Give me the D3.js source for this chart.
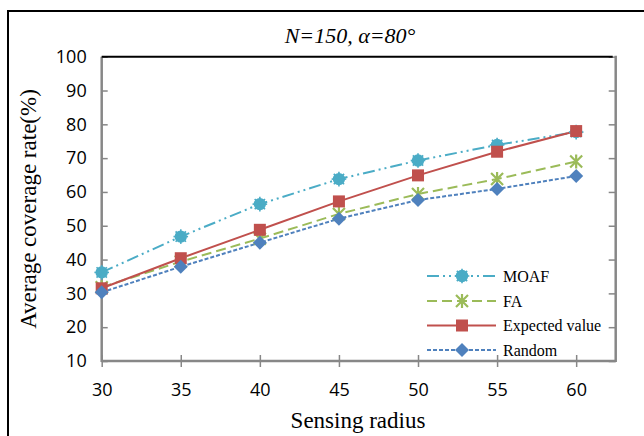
<!DOCTYPE html>
<html><head><meta charset="utf-8">
<script src="https://cdn.jsdelivr.net/npm/d3@7"></script>
<style>body{margin:0;background:#fff}svg{display:block}</style>
</head><body>
<svg id="c" width="644" height="436"></svg>
<script>
const radii = [30, 35, 40, 45, 50, 55, 60];
const moaf = [36.2, 46.8, 56.4, 63.8, 69.3, 73.9, 77.7];
const fa = [31.8, 39.4, 46.2, 53.5, 59.4, 63.8, 69.0];
const expected = [31.5, 40.4, 48.8, 57.2, 64.9, 71.9, 78.0];
const random = [30.3, 37.9, 45.0, 52.1, 57.6, 60.9, 64.7];
const yTicks = [10, 20, 30, 40, 50, 60, 70, 80, 90, 100];
const xTicks = [30, 35, 40, 45, 50, 55, 60];
const seriesNames = ["MOAF", "FA", "Expected value", "Random"];

const svg = d3.select("#c");
const L = 101.7, R = 615.7, T = 56.7, B = 361;
const x = d3.scaleLinear().domain([30, 62.5]).range([L, R]);
const y = d3.scaleLinear().domain([10, 100]).range([B, T]);

// outer frame
svg.append("path").attr("d", "M8,436 V11 H644").attr("fill", "none").attr("stroke", "#000").attr("stroke-width", 2);

const axisCol = "#878787";
const tickFont = "'Open Sans', 'Liberation Sans', sans-serif";
// left axis
const ya = svg.append("g").attr("transform", `translate(${L},0)`)
  .call(d3.axisLeft(y).tickValues(yTicks).tickSize(-6).tickPadding(20).tickFormat(d3.format("d")));
ya.select(".domain").remove();
ya.selectAll(".tick line").attr("stroke", axisCol).attr("stroke-width", 1.5);
ya.selectAll(".tick text").attr("font-family", tickFont).attr("font-size", 18).attr("fill", "#000").attr("dx", 5);
// right ticks
const yr = svg.append("g").attr("transform", `translate(${R},0)`)
  .call(d3.axisRight(y).tickValues(yTicks).tickSize(-7).tickFormat(""));
yr.select(".domain").remove();
yr.selectAll(".tick line").attr("stroke", axisCol).attr("stroke-width", 1.5);
// bottom axis
const xa = svg.append("g").attr("transform", `translate(0,${B})`)
  .call(d3.axisBottom(x).tickValues(xTicks).tickSize(6).tickPadding(16).tickFormat(d3.format("d")));
xa.select(".domain").remove();
xa.selectAll(".tick line").attr("stroke", axisCol).attr("stroke-width", 1.5).attr("y1", -6);
xa.selectAll(".tick text").attr("font-family", tickFont).attr("font-size", 18).attr("fill", "#000");

// frame lines
svg.append("line").attr("x1", L).attr("x2", L).attr("y1", T).attr("y2", B + 1).attr("stroke", axisCol).attr("stroke-width", 2.5);
svg.append("line").attr("x1", R).attr("x2", R).attr("y1", T - 1).attr("y2", B + 1).attr("stroke", axisCol).attr("stroke-width", 2.5);
svg.append("line").attr("x1", L).attr("x2", R).attr("y1", B).attr("y2", B).attr("stroke", axisCol).attr("stroke-width", 2.5);
svg.append("line").attr("x1", L).attr("x2", R - 3).attr("y1", T).attr("y2", T).attr("stroke", "#000").attr("stroke-width", 2);

const series = [
  {name: seriesNames[0], vals: moaf, color: "#4BACC6", dash: "12,4,2,4,2,4", marker: "moaf"},
  {name: seriesNames[1], vals: fa, color: "#9BBB59", dash: "10,5", marker: "x"},
  {name: seriesNames[2], vals: expected, color: "#C0504D", dash: null, marker: "square"},
  {name: seriesNames[3], vals: random, color: "#4F81BD", dash: "4,2", marker: "diamond"}
];

function drawMarker(g, type, cx, cy, color) {
  if (type === "moaf") {
    g.append("circle").attr("cx", cx).attr("cy", cy).attr("r", 6.2).attr("fill", color);
    for (let a = 0; a < 8; a++) {
      const an = a * Math.PI / 4;
      g.append("line").attr("x1", cx).attr("y1", cy).attr("x2", cx + 7.3 * Math.cos(an)).attr("y2", cy + 7.3 * Math.sin(an))
        .attr("stroke", color).attr("stroke-width", 1.6);
    }
  } else if (type === "x") {
    const s = 6;
    g.append("path").attr("d", `M${cx-s},${cy-s}L${cx+s},${cy+s}M${cx-s},${cy+s}L${cx+s},${cy-s}M${cx},${cy-s-1}L${cx},${cy+s+1}`)
      .attr("stroke", color).attr("stroke-width", 2.2).attr("fill", "none");
  } else if (type === "square") {
    g.append("rect").attr("x", cx - 6).attr("y", cy - 6).attr("width", 12).attr("height", 12).attr("fill", color);
  } else if (type === "diamond") {
    const s = 7;
    g.append("path").attr("d", `M${cx},${cy-s}L${cx+s},${cy}L${cx},${cy+s}L${cx-s},${cy}Z`).attr("fill", color);
  }
}

const line = d3.line().x((d, i) => x(radii[i])).y(d => y(d));
const plot = svg.append("g");
series.forEach(s => {
  plot.append("path").datum(s.vals).attr("d", line).attr("fill", "none")
    .attr("stroke", s.color).attr("stroke-width", 2).attr("stroke-dasharray", s.dash);
});
series.forEach(s => {
  const g = plot.append("g");
  s.vals.forEach((v, i) => drawMarker(g, s.marker, x(radii[i]), y(v), s.color));
});

// legend
const legY = [276, 301, 325.5, 350];
series.forEach((s, i) => {
  const g = svg.append("g");
  g.append("line").attr("x1", 427).attr("x2", 496).attr("y1", legY[i]).attr("y2", legY[i])
    .attr("stroke", s.color).attr("stroke-width", 2).attr("stroke-dasharray", s.dash);
  drawMarker(g, s.marker, 462, legY[i], s.color);
  g.append("text").attr("x", 503).attr("y", legY[i] + 5.5).text(s.name)
    .attr("font-family", "'Liberation Serif', 'Times New Roman', serif").attr("font-size", 16).attr("fill", "#000");
});

// title
svg.append("text").attr("x", 350).attr("y", 43).attr("text-anchor", "middle")
  .attr("font-family", "'Liberation Serif', 'Times New Roman', serif").attr("font-style", "italic").attr("font-size", 22)
  .text("N=150, α=80°");
// axis titles
svg.append("text").attr("x", 358).attr("y", 428).attr("text-anchor", "middle")
  .attr("font-family", "'Liberation Serif', 'Times New Roman', serif").attr("font-size", 23)
  .text("Sensing radius");
svg.append("text").attr("transform", "translate(36,209) rotate(-90)").attr("text-anchor", "middle")
  .attr("font-family", "'Liberation Serif', 'Times New Roman', serif").attr("font-size", 23)
  .text("Average coverage rate(%)");
</script>
</body></html>
